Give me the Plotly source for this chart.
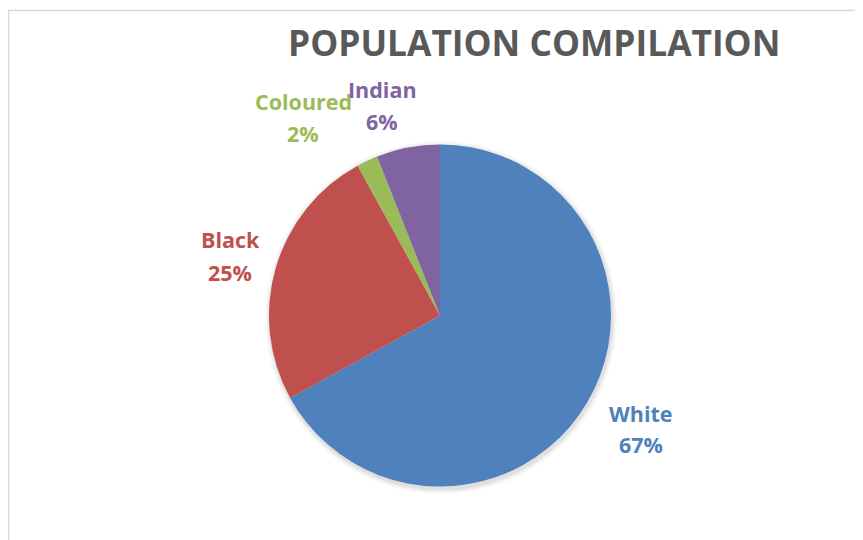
import plotly.graph_objects as go

categories = ["White", "Black", "Coloured", "Indian"]
values = [67, 25, 2, 6]
colors = ["#4F81BD", "#C0504D", "#9BBB59", "#8064A2"]
title_text = "POPULATION COMPILATION"

# label anchor positions in page pixels (x, y_name, y_pct)
label_pos = {"White": (641, 413, 444), "Black": (230, 240, 272),
             "Coloured": (303, 102, 133), "Indian": (382, 89, 121)}

W, H = 863, 540
OFF = 8  # page body margin


def px(x):
    return (x - OFF) / W


def py(y):
    return 1 - (y - OFF) / H


fig = go.Figure(go.Pie(
    labels=categories, values=values, sort=False, direction="clockwise", rotation=0,
    marker=dict(colors=colors, line=dict(color="white", width=0)),
    textinfo="none", hoverinfo="label+percent", showlegend=False,
    domain=dict(x=[px(269), px(611)], y=[py(487), py(144)]),
))

total = sum(values)
annotations = []
for cat, val, col in zip(categories, values, colors):
    x, yn, yp = label_pos[cat]
    for txt, yy in ((cat, yn), (f"{round(100 * val / total)}%", yp)):
        annotations.append(dict(
            x=px(x), y=py(yy), xref="paper", yref="paper", showarrow=False,
            text=txt, align="center",
            font=dict(family="Open Sans", size=21.5, color=col, weight="bold"),
            xanchor="center", yanchor="middle",
        ))
annotations.append(dict(
    x=px(534), y=py(42), xref="paper", yref="paper", showarrow=False,
    text=title_text, font=dict(family="Open Sans", size=35.3, color="#595959", weight="bold"),
    xanchor="center", yanchor="middle",
))

shapes = [dict(type="rect", xref="paper", yref="paper", x0=px(8.5), x1=1.2, y0=-0.2, y1=py(10.5),
               line=dict(color="#D9D9D9", width=1.5), fillcolor="rgba(0,0,0,0)")]
# soft drop shadow under the pie
for grow, alpha in ((5, 0.03), (3, 0.04), (1.5, 0.05)):
    shapes.append(dict(type="circle", xref="paper", yref="paper", layer="below",
                       x0=px(269 - grow + 1), x1=px(611 + grow + 1),
                       y0=py(487 + grow + 2), y1=py(144 - grow + 2),
                       line=dict(width=0), fillcolor=f"rgba(0,0,0,{alpha})"))

fig.update_layout(
    width=W, height=H, margin=dict(l=0, r=0, t=0, b=0),
    paper_bgcolor="white", plot_bgcolor="white",
    annotations=annotations,
    shapes=shapes,
)
fig.write_html("out.html")
